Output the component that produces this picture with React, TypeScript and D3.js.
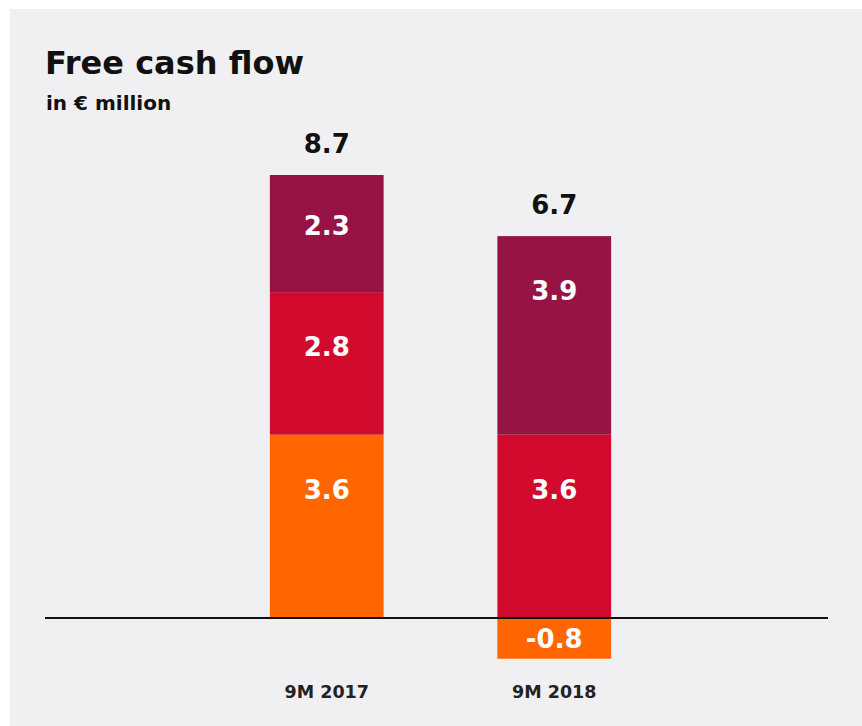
import React from "react";
import * as d3 from "d3";

const categories = ["9M 2017", "9M 2018"];
const seriesNames = ["bottom", "middle", "top"];
const bottomValues = [3.6, -0.8];
const middleValues = [2.8, 3.6];
const topValues = [2.3, 3.9];
const totals = [8.7, 6.7];
const colors = ["#ff6600", "#d20a2e", "#971346"];

const W = 862;
const H = 726;
const FONT = "'DejaVu Sans', Verdana, sans-serif";

export default function App() {
  const x = d3.scaleBand<string>().domain(categories).range([213, 668]).paddingInner(0.5).paddingOuter(0.25);
  const y = d3.scaleLinear().domain([0, 8.7]).range([618, 175]);

  const seriesValues = [bottomValues, middleValues, topValues];

  const segments: { cat: string; y0: number; y1: number; v: number; color: string; key: string }[] = [];
  categories.forEach((cat, i) => {
    let pos = 0;
    let neg = 0;
    seriesValues.forEach((vals, s) => {
      const v = vals[i];
      let y0, y1;
      if (v >= 0) {
        y0 = pos;
        y1 = pos + v;
        pos = y1;
      } else {
        y0 = neg + v;
        y1 = neg;
        neg = y0;
      }
      segments.push({ cat, y0, y1, v, color: colors[s], key: `${cat}-${seriesNames[s]}` });
    });
  });

  return (
    <svg width={W} height={H} style={{ position: "absolute", left: 0, top: 0 }}>
      <rect x={10} y={9} width={W - 10} height={H - 9} fill="#f0f0f2" />
      <text x={45} y={74} fontFamily={FONT} fontWeight={600} fontSize={32} fill="#111">
        Free cash flow
      </text>
      <text x={46} y={110} fontFamily={FONT} fontWeight={600} fontSize={20} fill="#111">
        in € million
      </text>
      {segments.map((s) => {
        const top = y(s.y1);
        const bot = y(s.y0);
        const cx = (x(s.cat) as number) + x.bandwidth() / 2;
        const mid = (top + bot) / 2;
        const ly = s.v >= 0 ? Math.min(mid - 8, top + 55) : mid;
        return (
          <g key={s.key}>
            <rect x={x(s.cat)} y={top} width={x.bandwidth()} height={bot - top} fill={s.color} />
            <text
              x={cx}
              y={ly}
              dy="0.36em"
              textAnchor="middle"
              fontFamily={FONT}
              fontWeight={600}
              fontSize={26}
              fill="#fff"
            >
              {s.v.toFixed(1)}
            </text>
          </g>
        );
      })}
      {categories.map((cat, i) => {
        const cx = (x(cat) as number) + x.bandwidth() / 2;
        const top = y(d3.sum(seriesValues, (vals) => Math.max(0, vals[i])));
        return (
          <g key={cat}>
            <text
              x={cx}
              y={top - 31}
              dy="0.36em"
              textAnchor="middle"
              fontFamily={FONT}
              fontWeight={700}
              fontSize={26}
              fill="#111"
            >
              {totals[i].toFixed(1)}
            </text>
            <text
              x={cx}
              y={692}
              dy="0.36em"
              textAnchor="middle"
              fontFamily={FONT}
              fontWeight={700}
              fontSize={17.5}
              fill="#222"
            >
              {cat}
            </text>
          </g>
        );
      })}
      <line x1={45} x2={828} y1={y(0)} y2={y(0)} stroke="#111" strokeWidth={2} />
    </svg>
  );
}
